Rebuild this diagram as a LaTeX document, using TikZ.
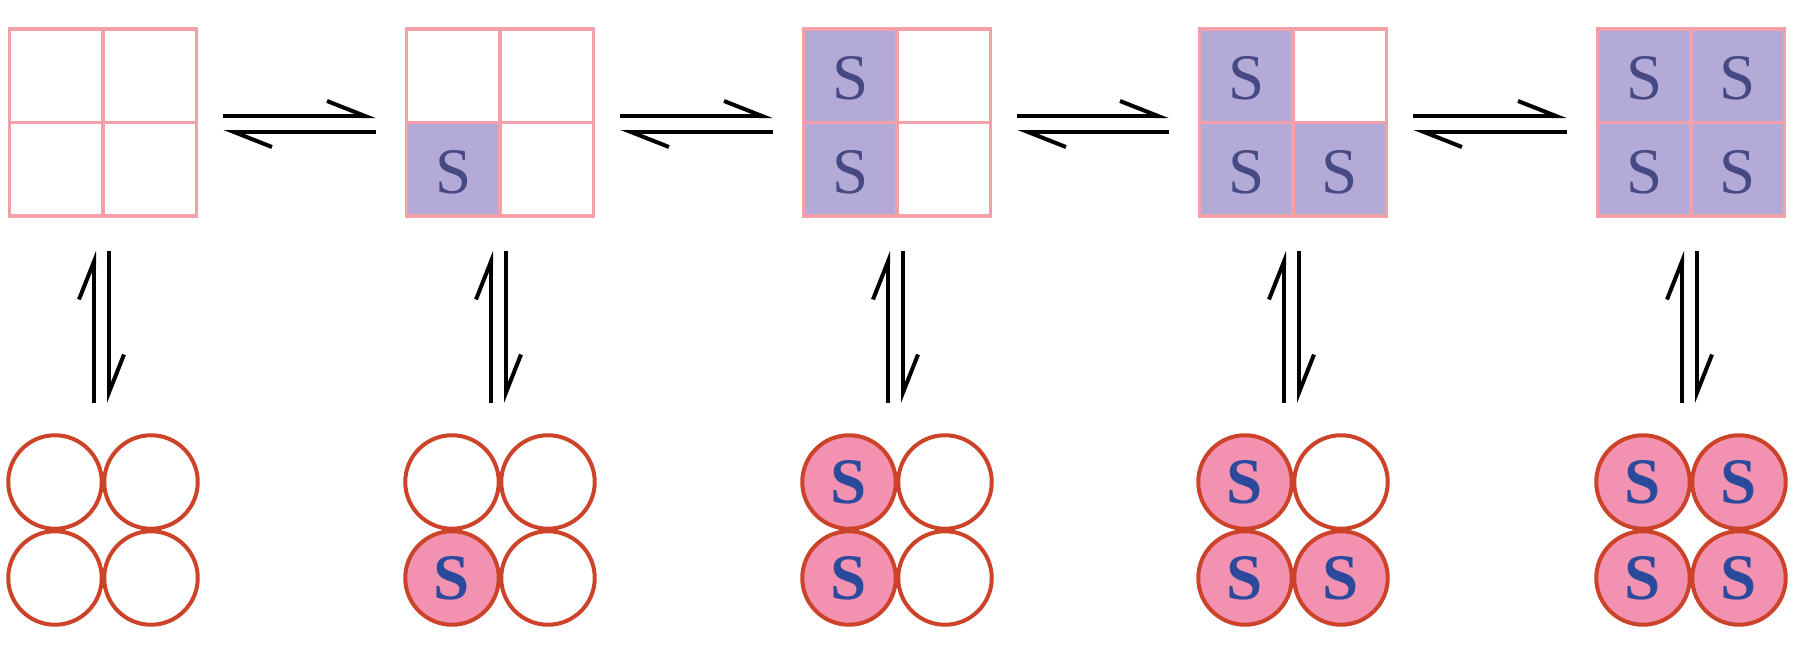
\documentclass[tikz,border=0pt]{standalone}
\usepackage{fontspec}
\setmainfont{Liberation Serif}
\usetikzlibrary{arrows.meta,calc}

\definecolor{gridpink}{HTML}{F3A0A8}
\definecolor{cellfill}{HTML}{B4AAD7}
\definecolor{sqtext}{HTML}{474985}
\definecolor{ringred}{HTML}{CC4329}
\definecolor{ballfill}{HTML}{F391B1}
\definecolor{balltext}{HTML}{2C4A9C}

\tikzset{
  site/.style={rectangle, minimum size=3.74cm, inner sep=0pt, outer sep=0pt},
  gridline/.style={draw=gridpink, line width=0.075cm},
  slabel/.style={text=sqtext, font=\fontsize{37}{37}\selectfont, inner sep=0pt, yshift=-0.06cm},
  group/.style={rectangle, minimum size=3.84cm, inner sep=0pt, outer sep=0pt},
  ball/.style={circle, draw=ringred, line width=0.08cm, minimum size=1.87cm,
    inner sep=0pt, text=balltext},
  full/.style={fill=ballfill, font=\fontsize{37}{37}\selectfont\bfseries,
    text depth=0pt, text height=0pt},
  harp/.style={line width=0.08cm, -{Straight Barb[left, length=0.76cm, width=0.6cm]}},
}

% one lattice (top) and its particle picture (bottom)
% #1 index, #2 x centre, #3 top-left, #4 top-right, #5 bottom-left, #6 bottom-right
\newcommand\latticestate[6]{%
  \node[site] (sq#1) at (#2,-122.5) {};
  \ifnum#3=1
    \fill[cellfill] (sq#1.west) rectangle (sq#1.north);
    \node[slabel] at ($(sq#1.center)+(-46.75,46.75)$) {S};
  \fi
  \ifnum#4=1
    \fill[cellfill] (sq#1.center) rectangle (sq#1.north east);
    \node[slabel] at ($(sq#1.center)+(46.75,46.75)$) {S};
  \fi
  \ifnum#5=1
    \fill[cellfill] (sq#1.south west) rectangle (sq#1.center);
    \node[slabel] at ($(sq#1.center)+(-46.75,-46.75)$) {S};
  \fi
  \ifnum#6=1
    \fill[cellfill] (sq#1.south) rectangle (sq#1.east);
    \node[slabel] at ($(sq#1.center)+(46.75,-46.75)$) {S};
  \fi
  \draw[gridline] (sq#1.south west) rectangle (sq#1.north east)
    (sq#1.north) -- (sq#1.south) (sq#1.west) -- (sq#1.east);
  \node[group] (cg#1) at (#2,-530) {};
  \ifnum#3=1 \node[ball,full] (b#1tl) at ($(cg#1.center)+(-48,48)$) {\raisebox{-0.33em}{S}};
  \else \node[ball] (b#1tl) at ($(cg#1.center)+(-48,48)$) {}; \fi
  \ifnum#4=1 \node[ball,full] (b#1tr) at ($(cg#1.center)+(48,48)$) {\raisebox{-0.33em}{S}};
  \else \node[ball] (b#1tr) at ($(cg#1.center)+(48,48)$) {}; \fi
  \ifnum#5=1 \node[ball,full] (b#1bl) at ($(cg#1.center)+(-48,-48)$) {\raisebox{-0.33em}{S}};
  \else \node[ball] (b#1bl) at ($(cg#1.center)+(-48,-48)$) {}; \fi
  \ifnum#6=1 \node[ball,full] (b#1br) at ($(cg#1.center)+(48,-48)$) {\raisebox{-0.33em}{S}};
  \else \node[ball] (b#1br) at ($(cg#1.center)+(48,-48)$) {}; \fi
  % vertical equilibrium between lattice and particles
  \draw[harp, shorten <=0.62cm, shorten >=0.70cm]
    ($(cg#1.north)+(-9,0)$) -- ($(sq#1.south)+(-9,0)$);
  \draw[harp, shorten <=0.70cm, shorten >=0.62cm]
    ($(sq#1.south)+(6,0)$) -- ($(cg#1.north)+(6,0)$);
}

% horizontal equilibrium between neighbouring lattices
\newcommand\equil[2]{%
  \draw[harp, shorten <=0.54cm, shorten >=0.62cm]
    ($(sq#1.east)+(0,6.5)$) -- ($(sq#2.west)+(0,6.5)$);
  \draw[harp, shorten <=0.62cm, shorten >=0.54cm]
    ($(sq#2.west)+(0,-9.5)$) -- ($(sq#1.east)+(0,-9.5)$);
}

\begin{document}
\begin{tikzpicture}[x=0.02cm, y=0.02cm]
  \useasboundingbox (0,0) rectangle (1793,-649);
  \latticestate{1}{103}{0}{0}{0}{0}
  \latticestate{2}{500}{0}{0}{1}{0}
  \latticestate{3}{897}{1}{0}{1}{0}
  \latticestate{4}{1293}{1}{0}{1}{1}
  \latticestate{5}{1691}{1}{1}{1}{1}
  \equil{1}{2}
  \equil{2}{3}
  \equil{3}{4}
  \equil{4}{5}
\end{tikzpicture}
\end{document}
